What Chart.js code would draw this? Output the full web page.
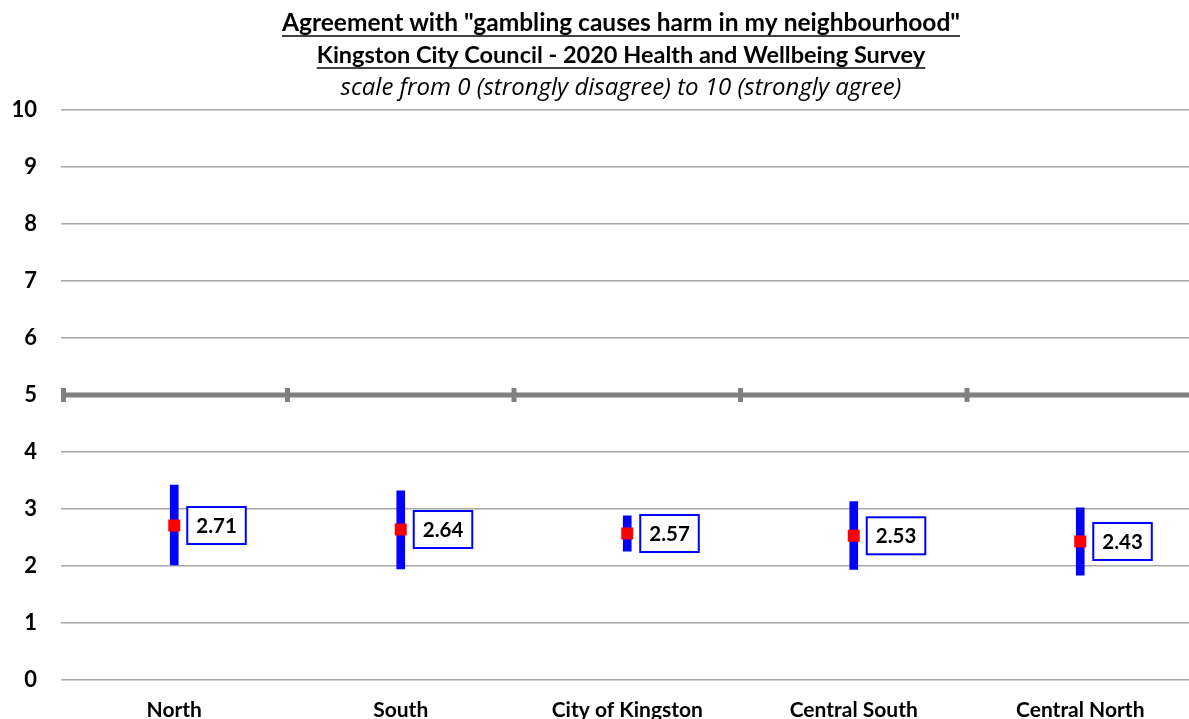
<!DOCTYPE html>
<html>
<head>
<meta charset="utf-8">
<script src="https://cdn.jsdelivr.net/npm/chart.js@4.4.1/dist/chart.umd.min.js"></script>
<style>
  html, body { margin: 0; padding: 0; background: #fff; overflow: hidden; }
  #wrap { position: relative; width: 1202px; height: 719px; }
</style>
</head>
<body>
<div id="wrap"><canvas id="c"></canvas></div>
<script>
// ---- data ----
const categories = ["North", "South", "City of Kingston", "Central South", "Central North"];
const means = [2.71, 2.64, 2.57, 2.53, 2.43];
const lowerCI = [2.02, 1.95, 2.26, 1.94, 1.84];
const upperCI = [3.42, 3.32, 2.88, 3.13, 3.02];
const titleLines = [
  'Agreement with "gambling causes harm in my neighbourhood"',
  'Kingston City Council - 2020 Health and Wellbeing Survey',
  'scale from 0 (strongly disagree) to 10 (strongly agree)'
];
const referenceValue = 5;
const FONT = "Lato, 'Open Sans', sans-serif";

const titlePlugin = {
  id: 'titlePlugin',
  afterDraw(chart) {
    const ctx = chart.ctx;
    ctx.save();
    ctx.fillStyle = '#000';
    ctx.strokeStyle = '#000';
    ctx.textAlign = 'center';
    ctx.textBaseline = 'alphabetic';
    const cx = 621;
    const ys = [31, 63, 95];
    const fonts = ['bold 24.5px ' + FONT, 'bold 23.5px ' + FONT, "italic 24px 'Open Sans', sans-serif"];
    titleLines.forEach((t, i) => {
      ctx.font = fonts[i];
      ctx.fillText(t, cx, ys[i]);
      if (i < 2) {
        const w = ctx.measureText(t).width;
        ctx.lineWidth = 1.5;
        ctx.beginPath();
        ctx.moveTo(cx - w / 2, ys[i] + 5);
        ctx.lineTo(cx + w / 2, ys[i] + 5);
        ctx.stroke();
      }
    });
    ctx.restore();
  }
};

const refLinePlugin = {
  id: 'refLine',
  beforeDatasetsDraw(chart) {
    const ctx = chart.ctx;
    const xs = chart.scales.x, ys = chart.scales.y;
    const y = ys.getPixelForValue(referenceValue);
    ctx.save();
    ctx.strokeStyle = '#808080';
    ctx.lineWidth = 5;
    ctx.beginPath();
    ctx.moveTo(chart.chartArea.left, y);
    ctx.lineTo(chart.chartArea.right, y);
    ctx.stroke();
    for (let i = 0; i <= categories.length; i++) {
      const x = xs.getPixelForValue(i - 0.5);
      const xx = Math.max(x, chart.chartArea.left + 2.5);
      ctx.beginPath();
      ctx.moveTo(xx, y - 7);
      ctx.lineTo(xx, y + 7);
      ctx.stroke();
    }
    ctx.restore();
  }
};

const labelPlugin = {
  id: 'valueLabels',
  afterDatasetsDraw(chart) {
    const ctx = chart.ctx;
    const meta = chart.getDatasetMeta(1);
    ctx.save();
    ctx.font = 'bold 20.5px ' + FONT;
    ctx.textBaseline = 'middle';
    ctx.textAlign = 'left';
    meta.data.forEach((pt, i) => {
      const txt = means[i].toFixed(2);
      const tw = ctx.measureText(txt).width;
      const bw = tw + 18, bh = 37;
      const bx = pt.x + 13, by = pt.y - bh / 2;
      ctx.fillStyle = '#fff';
      ctx.fillRect(bx, by, bw, bh);
      ctx.strokeStyle = '#0000ff';
      ctx.lineWidth = 2;
      ctx.strokeRect(bx, by, bw, bh);
      ctx.fillStyle = '#000';
      ctx.fillText(txt, bx + 9, pt.y + 1);
    });
    ctx.restore();
  }
};

new Chart(document.getElementById('c'), {
  data: {
    labels: categories,
    datasets: [
      {
        type: 'bar',
        data: lowerCI.map((lo, i) => [lo, upperCI[i]]),
        backgroundColor: '#0000ff',
        borderWidth: 0,
        barThickness: 8,
        order: 2
      },
      {
        type: 'line',
        data: means,
        showLine: false,
        pointStyle: 'rect',
        pointRadius: 8.5,
        pointBackgroundColor: '#ff0000',
        pointBorderWidth: 0,
        order: 1
      }
    ]
  },
  options: {
    responsive: true,
    maintainAspectRatio: false,
    animation: false,
    events: [],
    layout: { padding: { top: 110, bottom: 0, left: 0, right: 0 } },
    plugins: { legend: { display: false }, tooltip: { enabled: false } },
    scales: {
      x: {
        offset: true,
        afterFit(s) { s.height = 39; },
        grid: { display: false, drawTicks: false },
        border: { display: false },
        ticks: { color: '#000', font: { family: FONT, size: 21, weight: 'bold' }, padding: 18 }
      },
      y: {
        min: 0, max: 10,
        afterFit(s) { s.width = 61; },
        grid: {
          color: (c) => c.tick && c.tick.value === referenceValue ? 'rgba(0,0,0,0)' : '#a6a6a6',
          lineWidth: 1.5,
          drawTicks: false
        },
        border: { display: false },
        ticks: { stepSize: 1, color: '#000', font: { family: FONT, size: 22, weight: 'bold' }, padding: 24 }
      }
    }
  },
  plugins: [titlePlugin, refLinePlugin, labelPlugin]
});
</script>
</body>
</html>
